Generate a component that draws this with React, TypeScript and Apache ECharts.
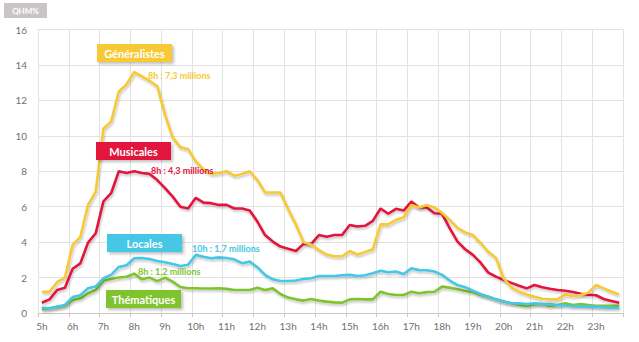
import React, { useEffect, useRef } from "react";
import * as echarts from "echarts";

const hourLabels = ["5h","6h","7h","8h","9h","10h","11h","12h","13h","14h","15h","16h","17h","18h","19h","20h","21h","22h","23h"];
const categories = hourLabels.flatMap((h) => [h, h + "15", h + "30", h + "45"]);
const yTicks = { min: 0, max: 16, interval: 2 };

const generalistes = [
  1.2, 1.2, 1.75, 2.0, 3.85, 4.3, 6.1, 6.85, 10.4, 10.8, 12.5, 12.9, 13.6,
  13.35, 13.1, 12.8, 11.2, 9.9, 9.35, 9.25, 8.55, 8.1, 7.85, 7.9,
  8.0, 7.75, 7.85, 8.0, 7.5, 6.8, 6.8, 6.8, 5.85, 5.0, 4.0, 3.85,
  3.55, 3.3, 3.2, 3.2, 3.5, 3.3, 3.45, 3.6, 5.0, 5.0, 5.25, 5.4,
  6.1, 5.95, 6.1, 5.95, 5.65, 5.25, 4.8, 4.55, 4.4, 3.95, 3.45, 3.1,
  1.95, 1.45, 1.2, 1.05, 0.92, 0.8, 0.77, 0.77, 1.05, 0.96, 1.02, 1.15, 1.58, 1.39, 1.2, 1.05,
];
const musicales = [
  0.58, 0.77, 1.3, 1.43, 2.5, 2.8, 3.97, 4.5, 6.3, 6.76, 8.0, 7.9, 8.0,
  7.9, 7.85, 7.5, 7.05, 6.57, 6.0, 5.9, 6.5, 6.23, 6.2, 6.1,
  6.1, 5.9, 5.9, 5.78, 5.16, 4.4, 4.03, 3.75, 3.62, 3.5, 3.9, 3.9,
  4.4, 4.3, 4.4, 4.4, 4.97, 4.88, 4.92, 5.2, 5.9, 5.6, 5.88, 5.78,
  6.29, 5.95, 5.95, 5.63, 5.6, 4.78, 4.03, 3.6, 3.28, 2.84, 2.28, 2.05,
  1.86, 1.7, 1.54, 1.39, 1.58, 1.45, 1.37, 1.3, 1.26, 1.19, 1.09, 1.03, 1.0, 0.79, 0.68, 0.58,
];
const locales = [
  0.3, 0.27, 0.36, 0.45, 0.9, 1.0, 1.4, 1.5, 1.96, 2.15, 2.6, 2.7, 3.09,
  3.1, 3.05, 2.94, 2.86, 2.77, 2.65, 2.72, 3.28, 3.18, 3.09, 3.14,
  3.1, 3.03, 2.81, 2.9, 2.58, 2.15, 1.9, 1.81, 1.81, 1.83, 1.92, 1.96,
  2.09, 2.09, 2.09, 2.13, 2.15, 2.09, 2.13, 2.24, 2.39, 2.3, 2.34, 2.2,
  2.52, 2.42, 2.41, 2.34, 2.15, 1.83, 1.58, 1.45, 1.26, 1.07, 0.92, 0.77,
  0.64, 0.55, 0.55, 0.51, 0.55, 0.51, 0.5, 0.45, 0.42, 0.38, 0.36, 0.36, 0.36, 0.32, 0.3, 0.3,
];
const thematiques = [
  0.2, 0.27, 0.32, 0.41, 0.73, 0.83, 1.1, 1.3, 1.83, 1.92, 2.0, 2.05, 2.22,
  1.9, 2.0, 1.8, 2.0, 1.77, 1.47, 1.4, 1.4, 1.38, 1.38, 1.4,
  1.36, 1.3, 1.3, 1.3, 1.43, 1.3, 1.39, 1.07, 0.87, 0.77, 0.7, 0.79,
  0.7, 0.64, 0.6, 0.58, 0.77, 0.79, 0.77, 0.77, 1.2, 1.07, 1.02, 1.02,
  1.2, 1.11, 1.18, 1.2, 1.49, 1.43, 1.34, 1.24, 1.18, 1.02, 0.92, 0.77,
  0.66, 0.55, 0.45, 0.4, 0.5, 0.5, 0.4, 0.45, 0.55, 0.45, 0.5, 0.45, 0.4, 0.4, 0.4, 0.4,
];

const seriesNames = ["Généralistes", "Musicales", "Locales", "Thématiques"];
const seriesData = [generalistes, musicales, locales, thematiques];
const colors = ["#f6c935", "#e2143e", "#45c7e5", "#7fc32e"];
const annotations = ["8h : 7,3 millions", "8h : 4,3 millions", "10h : 1,7 millions", "8h : 1,2 millions"];

const FONT = "Lato, 'Open Sans', sans-serif";

const boxPos = [
  { x: 97, y: 44 },
  { x: 96, y: 142 },
  { x: 107, y: 234 },
  { x: 106, y: 290 },
];
const notePos = [
  { x: 148, y: 75 },
  { x: 151, y: 170 },
  { x: 192, y: 248 },
  { x: 138, y: 271 },
];

export default function App() {
  const ref = useRef<HTMLDivElement>(null);
  useEffect(() => {
    if (!ref.current) return;
    const chart = echarts.init(ref.current, null, { renderer: "svg" });
    const graphics: any[] = [
      {
        type: "rect",
        shape: { x: 4, y: 3, width: 43, height: 15 },
        style: { fill: "#c9c5c7" },
      },
      {
        type: "text",
        x: 25.5,
        y: 10.5,
        style: {
          text: "QHM%",
          fill: "#ffffff",
          font: `bold 8px ${FONT}`,
          textAlign: "center",
          textVerticalAlign: "middle",
        },
      },
    ];
    seriesNames.forEach((name, k) => {
      graphics.push({
        type: "rect",
        shape: { x: boxPos[k].x, y: boxPos[k].y, width: 75, height: 18 },
        style: {
          fill: colors[k],
          shadowBlur: 3,
          shadowOffsetX: 2,
          shadowOffsetY: 2,
          shadowColor: "rgba(0,0,0,0.25)",
        },
        z: 10,
      });
      graphics.push({
        type: "text",
        x: boxPos[k].x + 37.5,
        y: boxPos[k].y + 9,
        style: {
          text: name,
          fill: "#ffffff",
          font: `bold 11px ${FONT}`,
          textAlign: "center",
          textVerticalAlign: "middle",
        },
        z: 11,
      });
      graphics.push({
        type: "text",
        x: notePos[k].x,
        y: notePos[k].y,
        style: {
          text: annotations[k],
          fill: colors[k],
          font: `bold 9px ${FONT}`,
          textAlign: "left",
          textVerticalAlign: "middle",
        },
        z: 11,
      });
    });

    chart.setOption({
      animation: false,
      backgroundColor: "#ffffff",
      textStyle: { fontFamily: FONT },
      grid: { left: 38, right: 16, top: 29.5, bottom: 29, containLabel: false },
      xAxis: {
        type: "category",
        data: categories,
        boundaryGap: true,
        axisLine: { show: true, lineStyle: { color: "#c8c8c8", width: 1 } },
        axisTick: { show: true, interval: 3, length: 4, lineStyle: { color: "#c8c8c8" } },
        axisLabel: { interval: 3, color: "#707070", fontSize: 10, margin: 8, fontFamily: FONT },
        splitLine: { show: true, interval: 3, lineStyle: { color: "#e2e2e2", width: 1 } },
      },
      yAxis: {
        type: "value",
        min: yTicks.min,
        max: yTicks.max,
        interval: yTicks.interval,
        axisLine: { show: false },
        axisTick: { show: false },
        axisLabel: { color: "#707070", fontSize: 10, margin: 11, fontFamily: FONT },
        splitLine: { show: true, lineStyle: { color: "#e2e2e2", width: 1 } },
      },
      series: seriesNames.map((name, k) => ({
        name,
        type: "line",
        data: seriesData[k],
        symbol: "none",
        z: 5 - k,
        lineStyle: {
          color: colors[k],
          width: 2.6,
          shadowColor: "rgba(0,0,0,0.22)",
          shadowBlur: 2,
          shadowOffsetX: 1,
          shadowOffsetY: 2,
        },
      })),
      graphic: graphics,
    });
    return () => chart.dispose();
  }, []);
  return (
    <div
      ref={ref}
      style={{ position: "fixed", left: 0, top: 0, width: 639, height: 342 }}
    />
  );
}
